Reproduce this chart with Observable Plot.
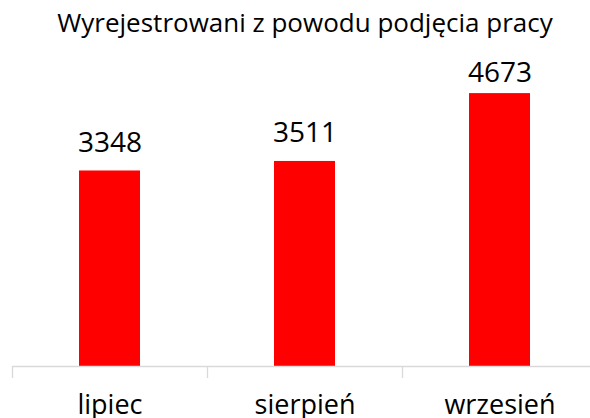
<!DOCTYPE html>
<html>
<head>
<meta charset="utf-8">
<script src="https://cdn.jsdelivr.net/npm/d3@7"></script>
<script src="https://cdn.jsdelivr.net/npm/@observablehq/plot@0.6"></script>
<style>
  html, body { margin: 0; padding: 0; background: #fff; overflow: hidden; }
  #title {
    position: relative; left: 10px; width: 590px; height: 40px; box-sizing: border-box;
    padding-top: 9px; font: 26px "Open Sans", sans-serif; line-height: 1; text-align: center; color: #000;
    white-space: nowrap;
  }
  svg { display: block; }
</style>
</head>
<body>
<div id="title"></div>
<div id="chart"></div>
<script>
const title = "Wyrejestrowani z powodu podjęcia pracy";
const months = ["lipiec", "sierpień", "wrzesień"];
const values = [3348, 3511, 4673];

const data = months.map((m, i) => ({month: m, value: values[i]}));
const maxValue = d3.max(values);
const step = 195;

document.getElementById("title").textContent = title;

const chart = Plot.plot({
  width: 590,
  height: 378,
  marginTop: 34,
  marginBottom: 52,
  marginLeft: 12,
  marginRight: 0,
  style: {fontFamily: "'Open Sans', sans-serif", color: "#000", background: "#fff"},
  x: {domain: months, range: [12, 597], paddingInner: 0.687, paddingOuter: 0.3435, label: null},
  y: {domain: [0, 5000], axis: null},
  marks: [
    Plot.barY(data, {x: "month", y: "value", fill: "#ff0000"}),
    Plot.ruleY([0], {stroke: "#d9d9d9", strokeWidth: 1.3}),
    Plot.ruleX(months, {x: d => d, y1: d => 0, y2: d => 0, dx: -step / 2, insetBottom: -12, stroke: "#d9d9d9", strokeWidth: 1.3}),
    Plot.ruleX(months.slice(-1), {x: d => d, y1: d => 0, y2: d => 0, dx: step / 2, insetBottom: -12, stroke: "#d9d9d9", strokeWidth: 1.3}),
    Plot.text(data.filter(d => d.value !== maxValue), {x: "month", y: "value", text: d => String(d.value), dy: -28, fontSize: 28, fill: "#000"}),
    Plot.text(data.filter(d => d.value === maxValue), {x: "month", y: "value", text: d => String(d.value), dy: -21, fontSize: 28, fill: "#000"}),
    Plot.axisX({tickSize: 0, tickPadding: 28, fontSize: 27, label: null, fill: "#000"})
  ]
});
document.getElementById("chart").appendChild(chart);
</script>
</body>
</html>
